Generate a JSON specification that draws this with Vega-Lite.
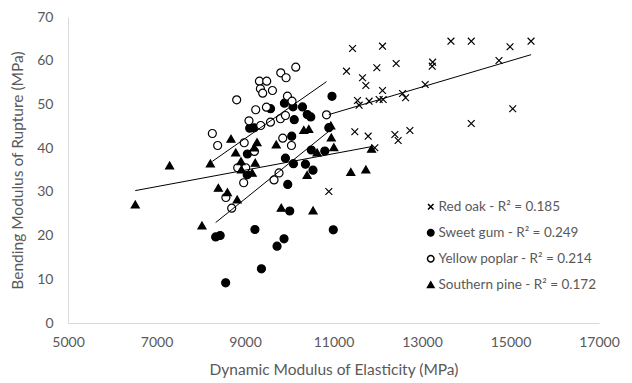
{
  "$schema": "https://vega.github.io/schema/vega-lite/v6.json",
  "width": 531,
  "height": 306,
  "autosize": {"type": "none"},
  "padding": {"left": 68, "top": 17, "right": 33, "bottom": 60},
  "background": "white",
  "config": {
    "view": {"stroke": null},
    "font": "Lato",
    "axis": {
      "grid": false,
      "ticks": false,
      "domainColor": "#d9d9d9",
      "domainWidth": 1,
      "labelColor": "#595959",
      "labelFontSize": 14,
      "titleColor": "#595959",
      "titleFontSize": 15.5,
      "titleFontWeight": "normal",
      "labelFont": "Lato",
      "titleFont": "Lato"
    },
    "legend": {
      "labelFont": "Lato",
      "labelFontSize": 13.5,
      "labelColor": "#595959",
      "labelLimit": 400
    }
  },
  "data": {
    "values": [
      {"species": "Red oak", "moe": 11430, "mor": 62.8},
      {"species": "Red oak", "moe": 12108, "mor": 63.33},
      {"species": "Red oak", "moe": 11294, "mor": 57.61},
      {"species": "Red oak", "moe": 11656, "mor": 56.1},
      {"species": "Red oak", "moe": 11731, "mor": 54.34},
      {"species": "Red oak", "moe": 11980, "mor": 58.38},
      {"species": "Red oak", "moe": 12416, "mor": 59.37},
      {"species": "Red oak", "moe": 13240, "mor": 59.67},
      {"species": "Red oak", "moe": 13231, "mor": 58.75},
      {"species": "Red oak", "moe": 13654, "mor": 64.47},
      {"species": "Red oak", "moe": 14113, "mor": 64.47},
      {"species": "Red oak", "moe": 14989, "mor": 63.19},
      {"species": "Red oak", "moe": 15464, "mor": 64.47},
      {"species": "Red oak", "moe": 14740, "mor": 60.05},
      {"species": "Red oak", "moe": 13072, "mor": 54.56},
      {"species": "Red oak", "moe": 12108, "mor": 53.19},
      {"species": "Red oak", "moe": 12561, "mor": 52.51},
      {"species": "Red oak", "moe": 12629, "mor": 51.52},
      {"species": "Red oak", "moe": 12122, "mor": 51.13},
      {"species": "Red oak", "moe": 12032, "mor": 51.13},
      {"species": "Red oak", "moe": 11805, "mor": 50.74},
      {"species": "Red oak", "moe": 11543, "mor": 50.9},
      {"species": "Red oak", "moe": 11579, "mor": 49.83},
      {"species": "Red oak", "moe": 15050, "mor": 49.0},
      {"species": "Red oak", "moe": 14113, "mor": 45.64},
      {"species": "Red oak", "moe": 11482, "mor": 43.74},
      {"species": "Red oak", "moe": 11783, "mor": 42.74},
      {"species": "Red oak", "moe": 12387, "mor": 43.12},
      {"species": "Red oak", "moe": 12461, "mor": 41.75},
      {"species": "Red oak", "moe": 12726, "mor": 44.04},
      {"species": "Red oak", "moe": 11934, "mor": 40.08},
      {"species": "Red oak", "moe": 10894, "mor": 30.08},
      {"species": "Sweet gum", "moe": 8337, "mor": 19.68},
      {"species": "Sweet gum", "moe": 8439, "mor": 20.02},
      {"species": "Sweet gum", "moe": 8563, "mor": 9.2},
      {"species": "Sweet gum", "moe": 9054, "mor": 38.66},
      {"species": "Sweet gum", "moe": 9050, "mor": 33.9},
      {"species": "Sweet gum", "moe": 9106, "mor": 44.57},
      {"species": "Sweet gum", "moe": 9208, "mor": 44.66},
      {"species": "Sweet gum", "moe": 9224, "mor": 21.39},
      {"species": "Sweet gum", "moe": 9371, "mor": 12.4},
      {"species": "Sweet gum", "moe": 9577, "mor": 49.03},
      {"species": "Sweet gum", "moe": 9724, "mor": 17.57},
      {"species": "Sweet gum", "moe": 9882, "mor": 19.26},
      {"species": "Sweet gum", "moe": 9891, "mor": 50.29},
      {"species": "Sweet gum", "moe": 9914, "mor": 37.7},
      {"species": "Sweet gum", "moe": 9966, "mor": 31.69},
      {"species": "Sweet gum", "moe": 10011, "mor": 25.62},
      {"species": "Sweet gum", "moe": 10056, "mor": 42.74},
      {"species": "Sweet gum", "moe": 10086, "mor": 49.46},
      {"species": "Sweet gum", "moe": 10095, "mor": 36.45},
      {"species": "Sweet gum", "moe": 10113, "mor": 46.51},
      {"species": "Sweet gum", "moe": 10299, "mor": 49.42},
      {"species": "Sweet gum", "moe": 10366, "mor": 36.33},
      {"species": "Sweet gum", "moe": 10407, "mor": 47.7},
      {"species": "Sweet gum", "moe": 10486, "mor": 47.13},
      {"species": "Sweet gum", "moe": 10498, "mor": 39.58},
      {"species": "Sweet gum", "moe": 10536, "mor": 34.96},
      {"species": "Sweet gum", "moe": 10803, "mor": 39.35},
      {"species": "Sweet gum", "moe": 10894, "mor": 44.68},
      {"species": "Sweet gum", "moe": 10966, "mor": 51.86},
      {"species": "Sweet gum", "moe": 10995, "mor": 21.32},
      {"species": "Yellow poplar", "moe": 8262, "mor": 43.35},
      {"species": "Yellow poplar", "moe": 8382, "mor": 40.61},
      {"species": "Yellow poplar", "moe": 8568, "mor": 28.71},
      {"species": "Yellow poplar", "moe": 8699, "mor": 26.26},
      {"species": "Yellow poplar", "moe": 8812, "mor": 51.06},
      {"species": "Yellow poplar", "moe": 8835, "mor": 35.51},
      {"species": "Yellow poplar", "moe": 8982, "mor": 41.23},
      {"species": "Yellow poplar", "moe": 8970, "mor": 32.08},
      {"species": "Yellow poplar", "moe": 9016, "mor": 35.51},
      {"species": "Yellow poplar", "moe": 9090, "mor": 46.26},
      {"species": "Yellow poplar", "moe": 9213, "mor": 39.24},
      {"species": "Yellow poplar", "moe": 9242, "mor": 48.78},
      {"species": "Yellow poplar", "moe": 9326, "mor": 55.32},
      {"species": "Yellow poplar", "moe": 9348, "mor": 53.58},
      {"species": "Yellow poplar", "moe": 9400, "mor": 52.57},
      {"species": "Yellow poplar", "moe": 9355, "mor": 45.18},
      {"species": "Yellow poplar", "moe": 9484, "mor": 49.37},
      {"species": "Yellow poplar", "moe": 9491, "mor": 55.32},
      {"species": "Yellow poplar", "moe": 9575, "mor": 45.94},
      {"species": "Yellow poplar", "moe": 9620, "mor": 53.19},
      {"species": "Yellow poplar", "moe": 9656, "mor": 32.72},
      {"species": "Yellow poplar", "moe": 9769, "mor": 34.32},
      {"species": "Yellow poplar", "moe": 9801, "mor": 46.72},
      {"species": "Yellow poplar", "moe": 9808, "mor": 57.24},
      {"species": "Yellow poplar", "moe": 9853, "mor": 42.28},
      {"species": "Yellow poplar", "moe": 9914, "mor": 47.47},
      {"species": "Yellow poplar", "moe": 9928, "mor": 56.1},
      {"species": "Yellow poplar", "moe": 9959, "mor": 51.89},
      {"species": "Yellow poplar", "moe": 10050, "mor": 40.61},
      {"species": "Yellow poplar", "moe": 10063, "mor": 50.74},
      {"species": "Yellow poplar", "moe": 10147, "mor": 58.52},
      {"species": "Yellow poplar", "moe": 10842, "mor": 47.63},
      {"species": "Southern pine", "moe": 6520, "mor": 27.11},
      {"species": "Southern pine", "moe": 7296, "mor": 36.03},
      {"species": "Southern pine", "moe": 8027, "mor": 22.31},
      {"species": "Southern pine", "moe": 8217, "mor": 36.49},
      {"species": "Southern pine", "moe": 8398, "mor": 30.93},
      {"species": "Southern pine", "moe": 8602, "mor": 29.92},
      {"species": "Southern pine", "moe": 8683, "mor": 42.14},
      {"species": "Southern pine", "moe": 8790, "mor": 39.01},
      {"species": "Southern pine", "moe": 8823, "mor": 28.25},
      {"species": "Southern pine", "moe": 8909, "mor": 37.02},
      {"species": "Southern pine", "moe": 8918, "mor": 35.12},
      {"species": "Southern pine", "moe": 9163, "mor": 34.36},
      {"species": "Southern pine", "moe": 9231, "mor": 36.65},
      {"species": "Southern pine", "moe": 9208, "mor": 40.15},
      {"species": "Southern pine", "moe": 9271, "mor": 41.36},
      {"species": "Southern pine", "moe": 9706, "mor": 40.84},
      {"species": "Southern pine", "moe": 9819, "mor": 26.36},
      {"species": "Southern pine", "moe": 10328, "mor": 44.15},
      {"species": "Southern pine", "moe": 10441, "mor": 44.38},
      {"species": "Southern pine", "moe": 10403, "mor": 33.86},
      {"species": "Southern pine", "moe": 10538, "mor": 25.74},
      {"species": "Southern pine", "moe": 10629, "mor": 39.01},
      {"species": "Southern pine", "moe": 10939, "mor": 45.18},
      {"species": "Southern pine", "moe": 10950, "mor": 42.44},
      {"species": "Southern pine", "moe": 11007, "mor": 40.22},
      {"species": "Southern pine", "moe": 11391, "mor": 34.55},
      {"species": "Southern pine", "moe": 11731, "mor": 35.12},
      {"species": "Southern pine", "moe": 11860, "mor": 39.85}
    ]
  },
  "encoding": {
    "x": {
      "field": "moe",
      "type": "quantitative",
      "scale": {"domain": [5000, 17000], "nice": false, "zero": false},
      "axis": {
        "title": "Dynamic Modulus of Elasticity (MPa)",
        "values": [5000, 7000, 9000, 11000, 13000, 15000, 17000],
        "format": "d",
        "labelPadding": 12,
        "titlePadding": 13,
        "labelFlush": false
      }
    },
    "y": {
      "field": "mor",
      "type": "quantitative",
      "scale": {"domain": [0, 70], "nice": false},
      "axis": {
        "title": "Bending Modulus of Rupture (MPa)",
        "values": [0, 10, 20, 30, 40, 50, 60, 70],
        "labelPadding": 15,
        "titlePadding": 11
      }
    }
  },
  "layer": [
    {
      "mark": {"type": "point", "opacity": 1, "stroke": "#000", "strokeWidth": 1.2, "size": 64},
      "encoding": {
        "shape": {
          "field": "species",
          "type": "nominal",
          "scale": {
            "domain": ["Red oak", "Sweet gum", "Yellow poplar", "Southern pine"],
            "range": ["M-0.85,-0.85L0.85,0.85M0.85,-0.85L-0.85,0.85", "circle", "circle", "triangle-up"]
          },
          "legend": {
            "title": null,
            "orient": "none",
            "legendX": 356,
            "legendY": 183,
            "padding": 0,
            "rowPadding": 11,
            "labelOffset": 1,
            "labelLimit": 400,
            "symbolSize": 42,
            "labelExpr": "datum.label == 'Red oak' ? 'Red oak - R² = 0.185' : datum.label == 'Sweet gum' ? 'Sweet gum - R² = 0.249' : datum.label == 'Yellow poplar' ? 'Yellow poplar - R² = 0.214' : 'Southern pine - R² = 0.172'",
            "encode": {
              "symbols": {
                "update": {
                  "stroke": {"value": "#000"},
                  "strokeWidth": {"value": 1.2},
                  "opacity": {"value": 1}
                }
              }
            }
          }
        },
        "fill": {
          "field": "species",
          "type": "nominal",
          "scale": {
            "domain": ["Red oak", "Sweet gum", "Yellow poplar", "Southern pine"],
            "range": ["transparent", "#000000", "#ffffff", "#000000"]
          },
          "legend": {
            "title": null,
            "orient": "none",
            "legendX": 356,
            "legendY": 183,
            "padding": 0,
            "rowPadding": 11,
            "labelOffset": 1,
            "labelLimit": 400,
            "symbolSize": 42,
            "labelExpr": "datum.label == 'Red oak' ? 'Red oak - R² = 0.185' : datum.label == 'Sweet gum' ? 'Sweet gum - R² = 0.249' : datum.label == 'Yellow poplar' ? 'Yellow poplar - R² = 0.214' : 'Southern pine - R² = 0.172'",
            "encode": {
              "symbols": {
                "update": {
                  "stroke": {"value": "#000"},
                  "strokeWidth": {"value": 1.2},
                  "opacity": {"value": 1}
                }
              }
            }
          }
        }
      }
    },
    {
      "transform": [
        {"regression": "mor", "on": "moe", "groupby": ["species"]}
      ],
      "mark": {"type": "line", "color": "#000", "strokeWidth": 1},
      "encoding": {
        "detail": {"field": "species", "type": "nominal"}
      }
    }
  ]
}
